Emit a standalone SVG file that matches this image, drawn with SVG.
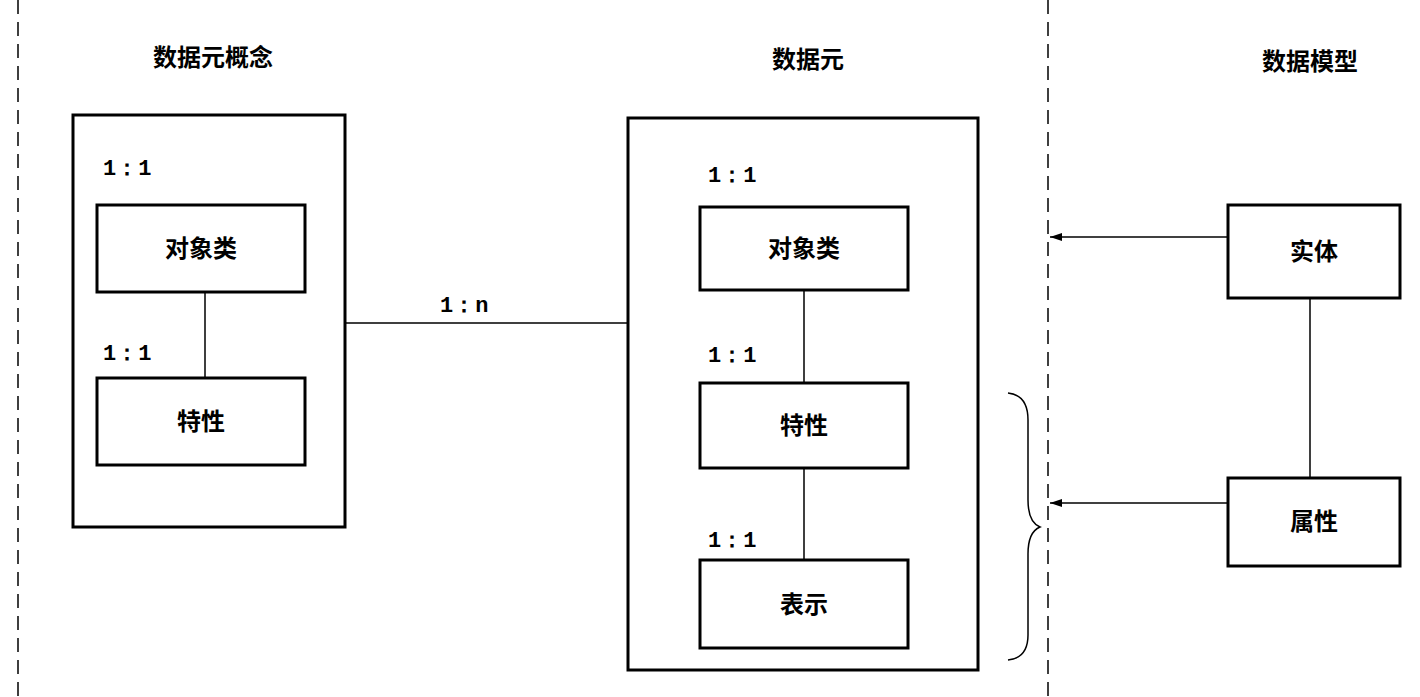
<svg xmlns="http://www.w3.org/2000/svg" width="1420" height="697" viewBox="0 0 1420 697">
<style>
.b{fill:#fff;stroke:#000;stroke-width:3}
.l{stroke:#000;stroke-width:1.5;fill:none}
.d{stroke:#000;stroke-width:1.5;stroke-dasharray:14 8;fill:none}
.t{font-family:"Noto Sans CJK SC",sans-serif;font-weight:bold;font-size:24px;text-anchor:middle}
.r{font-family:"Liberation Mono",monospace;font-weight:bold;font-size:22px}
</style>
<defs><marker id="a" markerWidth="12" markerHeight="8" refX="12" refY="4" orient="auto" markerUnits="userSpaceOnUse"><path d="M0,0L12,4L0,8z" fill="#000"/></marker></defs>
<rect width="1420" height="697" fill="#fff"/>
<path class="d" d="M18,0V697M1048,0V697"/>
<text class="t" x="213" y="66">数据元概念</text>
<text class="t" x="808" y="68">数据元</text>
<text class="t" x="1310" y="70">数据模型</text>
<g id="dec"><rect class="b" x="73" y="115" width="272" height="412"/>
<text class="r" x="103" y="175">1：1</text><text class="r" x="103" y="360">1：1</text></g>
<g id="dec-obj"><rect class="b" x="97" y="205" width="208" height="87"/><text class="t" x="201" y="257">对象类</text></g>
<g id="dec-prop"><rect class="b" x="97" y="378" width="208" height="87"/><text class="t" x="201" y="430">特性</text></g>
<g id="de"><rect class="b" x="628" y="118" width="350" height="552"/>
<text class="r" x="708" y="182">1：1</text><text class="r" x="708" y="362">1：1</text><text class="r" x="708" y="547">1：1</text></g>
<g id="de-obj"><rect class="b" x="700" y="207" width="208" height="83"/><text class="t" x="804" y="257">对象类</text></g>
<g id="de-prop"><rect class="b" x="700" y="383" width="208" height="85"/><text class="t" x="804" y="434">特性</text></g>
<g id="de-rep"><rect class="b" x="700" y="560" width="208" height="88"/><text class="t" x="804" y="613">表示</text></g>
<g id="entity"><rect class="b" x="1228" y="205" width="172" height="93"/><text class="t" x="1314" y="260">实体</text></g>
<g id="attr"><rect class="b" x="1228" y="478" width="172" height="88"/><text class="t" x="1314" y="530">属性</text></g>
<g id="connectors">
<path class="l" d="M205,293V377M346,323H627M804,291V382M804,469V559M1310,299V477"/>
<path class="l" d="M1227,237H1050" marker-end="url(#a)"/>
<path class="l" d="M1227,503H1050" marker-end="url(#a)"/>
<path class="l" d="M1008,393Q1028,395 1028,420V500Q1028,522 1040,527Q1028,532 1028,554V635Q1028,658 1008,660"/>
<text class="r" x="440" y="312">1：n</text>
</g>
</svg>
